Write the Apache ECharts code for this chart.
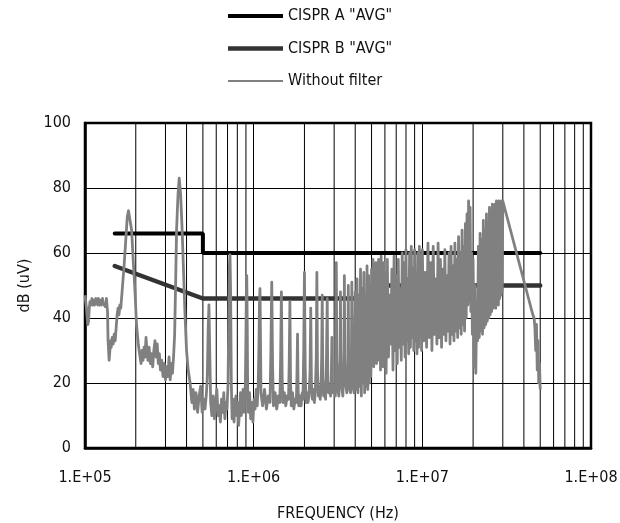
<!DOCTYPE html>
<html>
<head>
<meta charset="utf-8">
<script src="https://cdn.jsdelivr.net/npm/echarts@6/dist/echarts.min.js"></script>
<style>
html,body{margin:0;padding:0;background:#fff;}
#chart{width:620px;height:523px;}
</style>
</head>
<body>
<div id="chart"></div>
<script>
// ---- data ----
const seriesNames = ['CISPR A "AVG"', 'CISPR B "AVG"', 'Without filter'];
const xTickLabels = ['1.E+05', '1.E+06', '1.E+07', '1.E+08'];
const minorGridFreqHz = [2e5,3e5,4e5,5e5,6e5,7e5,8e5,9e5,2e6,3e6,4e6,5e6,6e6,7e6,8e6,9e6,2e7,3e7,4e7,5e7,6e7,7e7,8e7,9e7];

const cisprA = [[1.5e5,66],[5e5,66],[5e5,60],[5e7,60]];
const cisprB = [[1.5e5,56],[5e5,46],[5e6,46],[5e6,50],[5e7,50]];

// Without filter: 100 kHz .. 1.1 MHz
const traceLow = [
[1.00e5,47],[1.01e5,45],[1.02e5,43],[1.03e5,40],[1.04e5,38],[1.05e5,39],[1.06e5,43],[1.07e5,45],[1.08e5,44],[1.10e5,46],
[1.11e5,44],[1.13e5,45.5],[1.14e5,44],[1.16e5,46],[1.17e5,45],[1.19e5,44],[1.20e5,46],[1.22e5,44],[1.24e5,45.5],[1.25e5,44],
[1.27e5,46],[1.28e5,44.5],[1.30e5,45],[1.32e5,43.5],[1.34e5,46],[1.36e5,42],[1.37e5,33],[1.38e5,30],[1.39e5,27],[1.40e5,29],
[1.42e5,33],[1.43e5,31],[1.45e5,34],[1.47e5,32],[1.49e5,35],[1.51e5,33],[1.53e5,37],[1.55e5,41],[1.57e5,43],[1.59e5,41],
[1.61e5,44],[1.63e5,43],[1.67e5,50],[1.71e5,57],[1.75e5,65],[1.78e5,71],[1.81e5,73],[1.845e5,72.5],[1.89e5,67],[1.93e5,58],
[1.98e5,48],[2.02e5,38],[2.07e5,32],[2.12e5,28],[2.15e5,26],[2.18e5,30],[2.21e5,27],[2.24e5,31],[2.27e5,28],[2.30e5,34],
[2.33e5,30],[2.36e5,27],[2.40e5,31],[2.44e5,26],[2.48e5,29],[2.52e5,25],[2.56e5,30],[2.60e5,33],[2.64e5,28],[2.68e5,32],
[2.72e5,26],[2.76e5,29],[2.80e5,24],[2.85e5,27],[2.90e5,22],[2.95e5,26],[3.00e5,21],[3.05e5,25],[3.10e5,22],[3.15e5,28],
[3.20e5,21],[3.25e5,26],[3.30e5,23],[3.35e5,28],[3.40e5,35],[3.45e5,52],[3.49e5,67],[3.56e5,78],[3.62e5,83],[3.69e5,78],
[3.76e5,68],[3.83e5,56],[3.91e5,42],[4.00e5,30],[4.09e5,24],[4.20e5,20],[4.30e5,14],[4.38e5,18],[4.45e5,12],[4.55e5,17],
[4.65e5,11],[4.75e5,16],[4.85e5,19],[4.95e5,11],[5.05e5,15],[5.15e5,12],[5.25e5,17],[5.31e5,22],[5.37e5,36],[5.43e5,44],
[5.49e5,30],[5.56e5,14],[5.65e5,10],[5.75e5,16],[5.85e5,9],[5.95e5,14],[6.05e5,18],[6.15e5,10],[6.25e5,13],[6.35e5,8],
[6.45e5,15],[6.55e5,11],[6.65e5,17],[6.75e5,9],[6.85e5,14],[6.95e5,12],[7.05e5,20],[7.12e5,40],[7.18e5,56],[7.24e5,59.5],
[7.30e5,48],[7.37e5,20],[7.45e5,9],[7.55e5,15],[7.65e5,8],[7.75e5,13],[7.85e5,16],[7.95e5,10],[8.05e5,14],[8.15e5,7],
[8.25e5,12],[8.35e5,17],[8.45e5,10],[8.55e5,13],[8.65e5,18],[8.75e5,11],[8.85e5,15],[8.93e5,20],[9.00e5,35],[9.05e5,48],
[9.10e5,53],[9.16e5,38],[9.22e5,16],[9.30e5,11],[9.45e5,17],[9.60e5,9],[9.75e5,14],[9.90e5,8],[1.005e6,15],[1.02e6,12],
[1.035e6,18],[1.05e6,13],[1.065e6,20],[1.075e6,32],[1.083e6,45],[1.09e6,49],[1.097e6,35],[1.105e6,17]
];

// Without filter: 1.1 MHz .. 4 MHz (harmonic spikes)
const traceMid = [
[1.13e6,13],[1.16e6,18],[1.19e6,12],[1.22e6,16],[1.25e6,14],[1.265e6,30],[1.28e6,51],[1.295e6,25],[1.31e6,13],[1.34e6,17],
[1.37e6,12],[1.40e6,16],[1.43e6,14],[1.445e6,28],[1.46e6,48],[1.475e6,22],[1.49e6,14],[1.52e6,17],[1.55e6,13],[1.58e6,16],
[1.61e6,15],[1.625e6,27],[1.64e6,45],[1.655e6,20],[1.67e6,13],[1.70e6,17],[1.73e6,12],[1.76e6,15],[1.79e6,14],[1.805e6,22],
[1.82e6,35],[1.835e6,18],[1.85e6,13],[1.88e6,16],[1.91e6,13],[1.94e6,17],[1.96e6,15],[1.98e6,30],[2.00e6,54],[2.02e6,26],
[2.04e6,14],[2.07e6,17],[2.10e6,14],[2.13e6,16],[2.16e6,24],[2.18e6,43],[2.20e6,20],[2.23e6,15],[2.26e6,18],[2.29e6,14],
[2.32e6,17],[2.35e6,28],[2.37e6,54],[2.39e6,24],[2.42e6,16],[2.45e6,19],[2.48e6,15],[2.51e6,18],[2.53e6,28],[2.55e6,47],
[2.57e6,22],[2.60e6,16],[2.63e6,19],[2.67e6,15],[2.70e6,27],[2.73e6,46],[2.75e6,21],[2.78e6,17],[2.82e6,19],[2.86e6,16],
[2.89e6,24],[2.91e6,34],[2.93e6,20],[2.97e6,17],[3.01e6,19],[3.05e6,16],[3.07e6,30],[3.09e6,57],[3.11e6,27],[3.15e6,18],
[3.20e6,16],[3.25e6,28],[3.27e6,48],[3.29e6,22],[3.34e6,18],[3.38e6,16],[3.43e6,30],[3.45e6,53],[3.47e6,25],[3.52e6,19],
[3.57e6,17],[3.62e6,28],[3.64e6,50],[3.66e6,22],[3.71e6,18],[3.76e6,17],[3.80e6,30],[3.82e6,51],[3.84e6,25],[3.89e6,19],
[3.94e6,17]
];

// Without filter: 4 MHz .. 50 MHz (dense band)
const traceHigh = [
[4.00e6,48],[4.05e6,18],[4.10e6,52],[4.15e6,17],[4.20e6,47],[4.25e6,19],[4.30e6,55],[4.35e6,16],[4.40e6,49],[4.45e6,20],
[4.50e6,54],[4.55e6,17],[4.60e6,45],[4.65e6,19],[4.70e6,56],[4.75e6,18],[4.80e6,53],[4.85e6,20],[4.90e6,50],[4.95e6,22],
[5.0e6,55],[5.05e6,27],[5.1e6,58],[5.15e6,25],[5.2e6,52],[5.25e6,30],[5.3e6,57],[5.35e6,26],[5.4e6,48],[5.45e6,31],
[5.5e6,58],[5.55e6,27],[5.6e6,55],[5.65e6,24],[5.7e6,59],[5.75e6,29],[5.8e6,50],[5.85e6,25],[5.9e6,57],[5.95e6,30],
[6.0e6,54],[6.1e6,23],[6.2e6,58],[6.3e6,28],[6.4e6,47],[6.5e6,32],[6.6e6,55],[6.7e6,24],[6.8e6,59],[6.9e6,30],
[7.0e6,53],[7.1e6,26],[7.2e6,58],[7.3e6,31],[7.4e6,49],[7.5e6,27],[7.6e6,60],[7.7e6,32],[7.8e6,57],[7.9e6,28],
[8.0e6,61],[8.1e6,33],[8.2e6,52],[8.3e6,29],[8.4e6,60],[8.5e6,31],[8.6e6,62],[8.7e6,34],[8.8e6,55],[8.9e6,30],
[9.0e6,61],[9.1e6,33],[9.2e6,50],[9.3e6,29],[9.4e6,60],[9.5e6,31],[9.6e6,62],[9.7e6,34],[9.8e6,56],[9.9e6,30],
[1.00e7,61],[1.02e7,33],[1.04e7,54],[1.06e7,31],[1.08e7,63],[1.10e7,34],[1.12e7,57],[1.14e7,30],[1.16e7,62],[1.18e7,35],
[1.20e7,52],[1.22e7,32],[1.24e7,63],[1.26e7,34],[1.28e7,58],[1.30e7,31],[1.32e7,55],[1.34e7,35],[1.36e7,61],[1.38e7,33],
[1.40e7,53],[1.42e7,36],[1.44e7,60],[1.46e7,32],[1.48e7,62],[1.50e7,35],[1.52e7,56],[1.54e7,33],[1.56e7,63],[1.58e7,36],
[1.60e7,58],[1.62e7,34],[1.64e7,65],[1.66e7,37],[1.68e7,60],[1.70e7,35],[1.72e7,67],[1.74e7,38],[1.76e7,62],[1.78e7,36],
[1.80e7,69],[1.82e7,40],[1.84e7,72],[1.86e7,44],[1.88e7,76],[1.90e7,45],[1.92e7,74],[1.94e7,42],[1.96e7,60],[1.98e7,35],
[2.000e7,58],[2.025e7,25],[2.050e7,50],[2.075e7,23],[2.100e7,45],[2.125e7,33],[2.150e7,62],[2.175e7,34],[2.200e7,66],[2.225e7,36],
[2.250e7,64],[2.275e7,35],[2.300e7,70],[2.325e7,37],[2.350e7,67],[2.375e7,38],[2.400e7,72],[2.425e7,39],[2.450e7,69],[2.475e7,40],
[2.500e7,74],[2.525e7,41],[2.550e7,71],[2.575e7,42],[2.600e7,75],[2.625e7,43],[2.650e7,73],[2.675e7,44],[2.700e7,75],[2.725e7,43],
[2.750e7,76],[2.775e7,45],[2.800e7,74],[2.825e7,44],[2.850e7,76],[2.875e7,46],[2.900e7,75],[2.925e7,47],[2.950e7,76],[2.975e7,48],
[3.000e7,76],[4.52e7,41],[4.60e7,40],[4.65e7,37],[4.70e7,30],[4.75e7,38],[4.80e7,24],[4.85e7,33],[4.90e7,20],[4.95e7,26],
[5.00e7,18]
];

const traceData = traceLow.concat(traceMid, traceHigh);

// ---- chart ----
const FONT = "'DejaVu Sans Condensed', 'Liberation Sans Narrow', 'Liberation Sans', sans-serif";
const FS = 16;
const chart = echarts.init(document.getElementById('chart'), null, {renderer: 'canvas'});
chart.setOption({
  animation: false,
  backgroundColor: '#fff',
  textStyle: {fontFamily: FONT, color: '#111'},
  legend: {
    data: [
      {name: seriesNames[0], icon: 'path://M0,0H55V4H0Z'},
      {name: seriesNames[1], icon: 'path://M0,0H55V4.5H0Z'},
      {name: seriesNames[2], icon: 'path://M0,0H55V2H0Z'}
    ],
    orient: 'vertical',
    left: 228,
    top: 3,
    padding: [5, 5, 5, 0],
    itemWidth: 55,
    itemHeight: 14,
    itemGap: 16.5,
    symbolKeepAspect: true,
    textStyle: {fontFamily: FONT, fontSize: FS, color: '#111'}
  },
  grid: {
    left: 85, right: 29, top: 123, bottom: 75,
    outerBoundsMode: 'none',
    containLabel: false,
    show: true, borderColor: '#000', borderWidth: 2.5, backgroundColor: 'transparent'
  },
  xAxis: {
    type: 'log', logBase: 10, min: 1e5, max: 1e8,
    name: 'FREQUENCY (Hz)', nameLocation: 'middle', nameGap: 58,
    nameTextStyle: {fontFamily: FONT, fontSize: FS, color: '#111'},
    axisLine: {show: true, lineStyle: {color: '#000', width: 2.5}},
    axisTick: {show: false},
    axisLabel: {
      fontFamily: FONT, fontSize: FS, color: '#111', margin: 22,
      showMinLabel: true, showMaxLabel: true,
      formatter: v => xTickLabels[Math.round(Math.log10(v)) - 5]
    },
    splitLine: {show: true, lineStyle: {color: '#000', width: 1}}
  },
  yAxis: {
    type: 'value', min: 0, max: 100, interval: 20,
    name: 'dB (uV)', nameLocation: 'middle', nameGap: 48, nameRotate: 90,
    nameTextStyle: {fontFamily: FONT, fontSize: FS, color: '#111'},
    axisLine: {show: true, lineStyle: {color: '#000', width: 2.5}},
    axisTick: {show: false},
    axisLabel: {fontFamily: FONT, fontSize: FS, color: '#111', margin: 14},
    splitLine: {show: true, lineStyle: {color: '#000', width: 1}}
  },
  series: [
    {
      type: 'custom', name: 'minorGrid', silent: true, z: 1,
      data: minorGridFreqHz.map(f => [f, 0]),
      encode: {x: 0, y: 1},
      renderItem: (params, api) => {
        const f = api.value(0);
        const p1 = api.coord([f, 100]);
        const p2 = api.coord([f, 0]);
        return {type: 'line', shape: {x1: p1[0], y1: p1[1], x2: p2[0], y2: p2[1]}, style: {stroke: '#000', lineWidth: 1}};
      }
    },
    {
      name: seriesNames[0], type: 'line', data: cisprA, z: 2,
      symbol: 'none', showSymbol: false,
      lineStyle: {color: '#000', width: 4, cap: 'round'}, itemStyle: {color: '#000'}
    },
    {
      name: seriesNames[1], type: 'line', data: cisprB, z: 2,
      symbol: 'none', showSymbol: false,
      lineStyle: {color: '#333', width: 4.5, cap: 'round'}, itemStyle: {color: '#333'}
    },
    {
      name: seriesNames[2], type: 'line', data: traceData, z: 3,
      symbol: 'none', showSymbol: false,
      lineStyle: {color: '#808080', width: 2.8, join: 'round'}, itemStyle: {color: '#808080'}
    }
  ]
});
</script>
</body>
</html>
